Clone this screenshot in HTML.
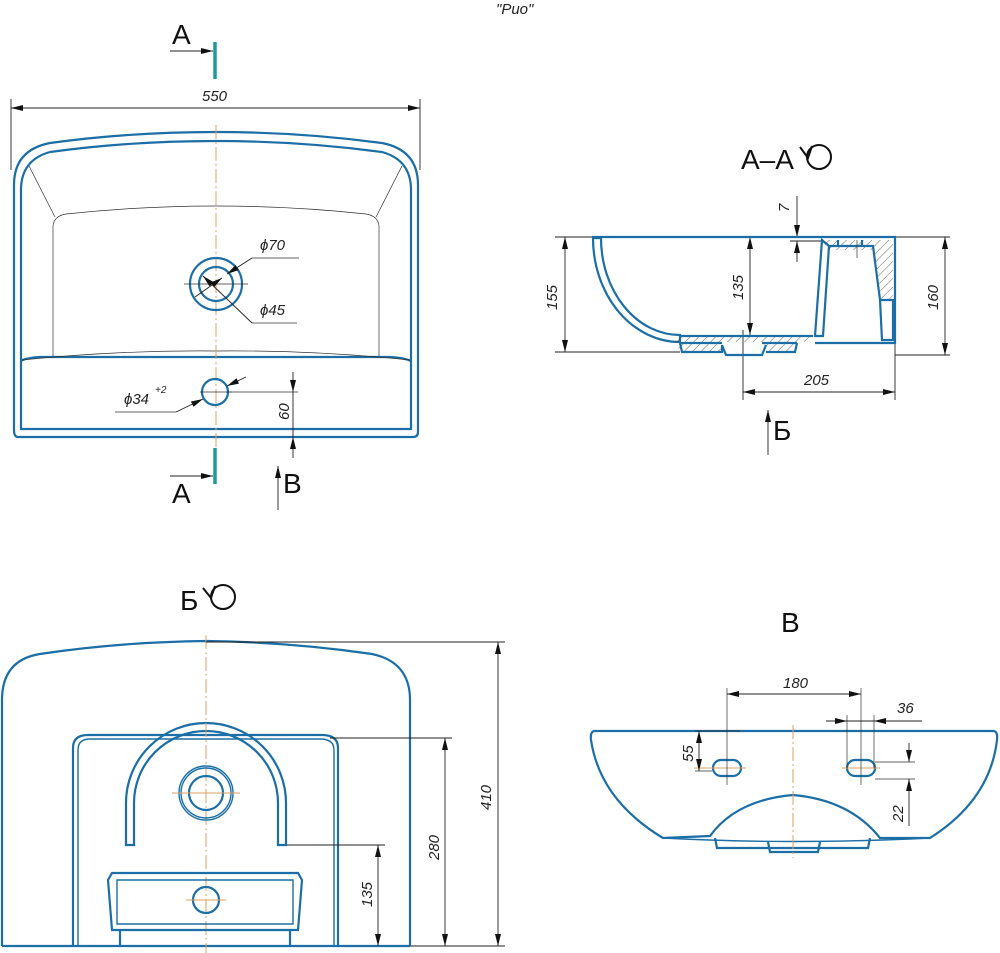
<!DOCTYPE html>
<html><head><meta charset="utf-8"><style>
html,body{margin:0;padding:0;background:#fff;}
svg{display:block;}
.b{fill:none;stroke:#1b6ea6;stroke-width:2.2;}
.bt{fill:none;stroke:#1b6ea6;stroke-width:1.4;}
.k{fill:none;stroke:#222;stroke-width:0.9;}
.kk{fill:none;stroke:#333;stroke-width:0.7;}
.c{fill:none;stroke:#d9a060;stroke-width:1;stroke-dasharray:14 3 2 3;}
.t{font-family:"Liberation Sans",sans-serif;font-style:italic;font-size:15px;fill:#222;}
.L{font-family:"Liberation Sans","DejaVu Sans",sans-serif;font-size:28px;fill:#111;}
.tl{fill:none;stroke:#1e9a9a;stroke-width:3.5;}
</style></head><body>
<svg width="1000" height="953" viewBox="0 0 1000 953" xmlns="http://www.w3.org/2000/svg">
<defs>
<marker id="a" viewBox="0 0 12 6" refX="12" refY="3" markerWidth="12" markerHeight="6" markerUnits="userSpaceOnUse" orient="auto-start-reverse"><path d="M0,0 L12,3 L0,6 z" fill="#111"/></marker>
<pattern id="h" width="6" height="6" patternUnits="userSpaceOnUse" patternTransform="rotate(45)"><line x1="0" y1="0" x2="0" y2="6" stroke="#444" stroke-width="0.8"/></pattern>
</defs>

<text class="t" x="496" y="14">"Рио"</text>

<!-- ===== TOP VIEW ===== -->
<text class="L" x="172" y="44">A</text>
<line class="k" x1="170" y1="51" x2="213" y2="51" marker-end="url(#a)"/>
<line class="tl" x1="215" y1="42" x2="215" y2="79"/>

<text class="t" x="202" y="101">550</text>
<line class="k" x1="11" y1="99" x2="11" y2="170"/>
<line class="k" x1="420" y1="99" x2="420" y2="170"/>
<line class="k" x1="11" y1="108" x2="420" y2="108" marker-start="url(#a)" marker-end="url(#a)"/>

<path class="b" d="M14,430 L14,185 Q14,150 50,143 Q130,132 216,132 Q300,132 382,143 Q418,150 418,185 L418,432 Q418,437 413,437 L18,437 Q14,437 14,430 Z"/>
<path class="b" d="M21,425 L21,190 Q21,160 50,152 Q130,141 216,141 Q300,141 382,152 Q411,160 411,190 L411,429 L21,429 Z"/>
<path class="b" d="M21,361 Q25,358 40,357 L390,357 Q405,358 411,361"/>
<path class="kk" d="M22,360 Q120,350 216,351 Q312,350 410,360"/>
<path class="kk" d="M53,356 L53,226 Q54,216 66,214 Q140,206 216,206 Q292,206 366,214 Q378,216 379,226 L379,356"/>
<line class="kk" x1="29" y1="166" x2="55" y2="217"/>
<line class="kk" x1="402" y1="166" x2="376" y2="217"/>

<line class="c" x1="216" y1="125" x2="216" y2="465"/>
<circle class="b" cx="216" cy="284" r="26"/>
<circle class="b" cx="216" cy="284" r="17"/>
<line class="kk" x1="184" y1="284" x2="248" y2="284"/>
<text class="t" x="260" y="250">ϕ70</text>
<line class="kk" x1="299" y1="258" x2="252" y2="258"/>
<line class="k" x1="252" y1="258" x2="227" y2="274" marker-end="url(#a)"/>
<line class="k" x1="222" y1="278" x2="195" y2="297" marker-start="url(#a)"/>
<text class="t" x="260" y="315">ϕ45</text>
<line class="kk" x1="297" y1="323" x2="252" y2="323"/>
<line class="k" x1="252" y1="323" x2="203" y2="276" marker-end="url(#a)"/>

<circle class="b" cx="215" cy="392" r="13"/>
<line class="kk" x1="200" y1="392" x2="232" y2="392"/>
<line class="kk" x1="226" y1="392" x2="298" y2="392"/>
<text class="t" x="124" y="404">ϕ34</text>
<text class="t" x="155" y="393" style="font-size:10px">+2</text>
<line class="kk" x1="115" y1="412" x2="176" y2="412"/>
<line class="k" x1="176" y1="412" x2="203" y2="399" marker-end="url(#a)"/>
<line class="k" x1="227" y1="386" x2="246" y2="377" marker-start="url(#a)"/>

<line class="k" x1="293" y1="372" x2="293" y2="392" marker-end="url(#a)"/>
<line class="k" x1="293" y1="392" x2="293" y2="437"/>
<line class="k" x1="293" y1="458" x2="293" y2="437" marker-end="url(#a)"/>
<text class="t" transform="translate(289,420) rotate(-90)">60</text>

<line class="tl" x1="215" y1="448" x2="215" y2="484"/>
<line class="k" x1="170" y1="476" x2="213" y2="476" marker-end="url(#a)"/>
<text class="L" x="172" y="503">A</text>
<line class="k" x1="278" y1="510" x2="278" y2="466" marker-end="url(#a)"/>
<text class="L" x="283" y="493">B</text>

<!-- ===== SECTION A-A ===== -->
<text class="L" x="741" y="169">A–A</text>
<circle cx="819" cy="157" r="12" fill="none" stroke="#111" stroke-width="2"/>
<path d="M800,147 L808,158 L812,146" fill="none" stroke="#111" stroke-width="2"/>

<line class="k" x1="555" y1="237" x2="950" y2="237"/>
<line class="k" x1="555" y1="352" x2="680" y2="352"/>
<line class="k" x1="895" y1="355" x2="950" y2="355"/>
<line class="k" x1="565" y1="237" x2="565" y2="352" marker-start="url(#a)" marker-end="url(#a)"/>
<text class="t" transform="translate(557,310) rotate(-90)">155</text>
<line class="k" x1="945" y1="237" x2="945" y2="355" marker-start="url(#a)" marker-end="url(#a)"/>
<text class="t" transform="translate(938,310) rotate(-90)">160</text>
<line class="k" x1="750" y1="237" x2="750" y2="335" marker-start="url(#a)" marker-end="url(#a)"/>
<text class="t" transform="translate(743,300) rotate(-90)">135</text>
<line class="k" x1="797" y1="196" x2="797" y2="237" marker-end="url(#a)"/>
<line class="k" x1="797" y1="262" x2="797" y2="241" marker-end="url(#a)"/>
<line class="k" x1="790" y1="241" x2="822" y2="241"/>
<text class="t" transform="translate(789,212) rotate(-90)">7</text>
<line class="k" x1="743" y1="330" x2="743" y2="400"/>
<line class="k" x1="895" y1="237" x2="895" y2="400"/>
<line class="k" x1="743" y1="392" x2="895" y2="392" marker-start="url(#a)" marker-end="url(#a)"/>
<text class="t" x="804" y="385">205</text>

<!-- hatched walls -->
<path d="M593,238 A87,104 0 0 0 680,342 L680,335 A79,97 0 0 1 601,238 Z" fill="url(#h)" class="b"/>
<path d="M676,335 L812,335 L812,342 L676,342 Z" fill="url(#h)" stroke="none"/>
<path d="M676,342 L680,352 L720,352 L722,343 Z" fill="url(#h)" stroke="none"/>
<path d="M762,343 L766,352 L795,352 L795,342 Z" fill="url(#h)" stroke="none"/>
<path d="M822,240 L815,336 L823,336 L829,246 Z" fill="url(#h)" class="b"/>
<path d="M822,240 L893,240 L893,250 L829,250 Z" fill="url(#h)" stroke="none"/>
<path d="M874,250 L893,250 L893,300 L880,300 Z" fill="url(#h)" stroke="none"/>
<path class="b" d="M592,237 L895,237 L895,343 L815,343"/>
<path class="b" d="M680,336 L813,336"/>
<path class="b" d="M680,343 L682,352 L722,352 L722,345 M722,345 L726,355 L762,355 L766,345 M766,352 L795,352 L797,343 M680,343 L722,343 M762,343 L797,343"/>
<path class="b" d="M829,246 L873,246 L880,300 L882,340 L893,340 L893,300 L880,300"/>
<line class="b" x1="838" y1="240" x2="838" y2="246"/>
<line class="b" x1="862" y1="240" x2="862" y2="246"/>
<line class="kk" x1="857" y1="240" x2="857" y2="258"/>

<line class="k" x1="768" y1="455" x2="768" y2="410" marker-end="url(#a)"/>
<text class="L" x="773" y="440">Б</text>

<!-- ===== VIEW Б ===== -->
<text class="L" x="180" y="610">Б</text>
<circle cx="223" cy="597" r="12" fill="none" stroke="#111" stroke-width="2"/>
<path d="M203,588 L211,598 L215,586" fill="none" stroke="#111" stroke-width="2"/>

<path class="b" d="M2,946 L2,700 Q2,660 40,654 Q120,642 206,641 Q290,642 372,654 Q410,662 410,700 L410,946"/>
<line class="b" x1="2" y1="946" x2="410" y2="946"/>
<path class="b" d="M73,946 L73,748 Q73,735 88,735 L322,735 Q338,735 338,748 L338,946"/>
<path class="bt" d="M78,946 L78,750 Q78,739 90,739 L320,739 Q334,739 334,750 L334,946"/>
<path class="b" d="M126,845 L126,803 A80,80 0 0 1 286,803 L286,845 L278,845 L278,803 A72,72 0 0 0 134,803 L134,845 Z" fill="#fff"/>
<line class="c" x1="206" y1="635" x2="206" y2="953"/>
<circle class="bt" cx="206" cy="793" r="27"/>
<circle class="bt" cx="206" cy="793" r="25"/>
<circle class="b" cx="206" cy="793" r="17"/>
<line class="c" x1="172" y1="793" x2="240" y2="793" style="stroke-dasharray:none"/>
<path class="b" d="M112,873 L298,873 L302,880 L298,930 L112,930 L108,880 Z"/>
<path class="bt" d="M117,880 L293,880 L293,924 L117,924 Z"/>
<circle class="b" cx="206" cy="900" r="13"/>
<line class="c" x1="186" y1="900" x2="226" y2="900" style="stroke-dasharray:none"/>
<line class="b" x1="120" y1="930" x2="120" y2="946"/>
<line class="b" x1="290" y1="930" x2="290" y2="946"/>

<line class="k" x1="206" y1="642" x2="505" y2="642"/>
<line class="k" x1="410" y1="946" x2="505" y2="946"/>
<line class="k" x1="330" y1="738" x2="452" y2="738"/>
<line class="k" x1="287" y1="845" x2="385" y2="845"/>
<line class="k" x1="498" y1="642" x2="498" y2="946" marker-start="url(#a)" marker-end="url(#a)"/>
<text class="t" transform="translate(491,810) rotate(-90)">410</text>
<line class="k" x1="445" y1="738" x2="445" y2="946" marker-start="url(#a)" marker-end="url(#a)"/>
<text class="t" transform="translate(439,860) rotate(-90)">280</text>
<line class="k" x1="378" y1="845" x2="378" y2="946" marker-start="url(#a)" marker-end="url(#a)"/>
<text class="t" transform="translate(372,907) rotate(-90)">135</text>

<!-- ===== VIEW B ===== -->
<text class="L" x="781" y="632">B</text>
<path class="b" d="M594,731 L994,731 Q998,732 997,740 Q990,800 930,838 L880,838 Q850,800 793,795 Q736,800 710,836 L663,838 Q600,800 591,740 Q590,732 594,731 Z"/>
<path class="bt" d="M663,838 Q793,845 930,838"/>
<path class="b" d="M715,838 L717,848 L868,848 L870,838"/>
<path class="b" d="M768,842 L770,852 L818,852 L820,842"/>
<line class="c" x1="793" y1="725" x2="793" y2="858"/>
<rect class="b" x="713" y="760" width="28" height="16" rx="8"/>
<rect class="b" x="847" y="760" width="28" height="16" rx="8"/>
<line class="c" x1="694" y1="768" x2="746" y2="768" style="stroke-dasharray:none"/>
<line class="c" x1="842" y1="768" x2="880" y2="768" style="stroke-dasharray:none"/>
<line class="kk" x1="727" y1="688" x2="727" y2="785"/>
<line class="kk" x1="861" y1="688" x2="861" y2="785"/>
<line class="k" x1="727" y1="694" x2="861" y2="694" marker-start="url(#a)" marker-end="url(#a)"/>
<text class="t" x="783" y="688">180</text>
<line class="kk" x1="847" y1="715" x2="847" y2="768"/>
<line class="kk" x1="874" y1="715" x2="874" y2="768"/>
<line class="k" x1="826" y1="721" x2="847" y2="721" marker-end="url(#a)"/>
<line class="k" x1="922" y1="721" x2="874" y2="721" marker-end="url(#a)"/>
<line class="k" x1="847" y1="721" x2="874" y2="721"/>
<text class="t" x="897" y="713">36</text>
<line class="kk" x1="695" y1="731" x2="740" y2="731"/>
<line class="kk" x1="695" y1="771" x2="712" y2="771"/>
<line class="k" x1="699" y1="731" x2="699" y2="771" marker-start="url(#a)" marker-end="url(#a)"/>
<text class="t" transform="translate(693,762) rotate(-90)">55</text>
<line class="kk" x1="875" y1="762" x2="915" y2="762"/>
<line class="kk" x1="875" y1="779" x2="915" y2="779"/>
<line class="k" x1="909" y1="743" x2="909" y2="762" marker-end="url(#a)"/>
<line class="k" x1="909" y1="826" x2="909" y2="779" marker-end="url(#a)"/>
<text class="t" transform="translate(903,822) rotate(-90)">22</text>
</svg>
</body></html>
